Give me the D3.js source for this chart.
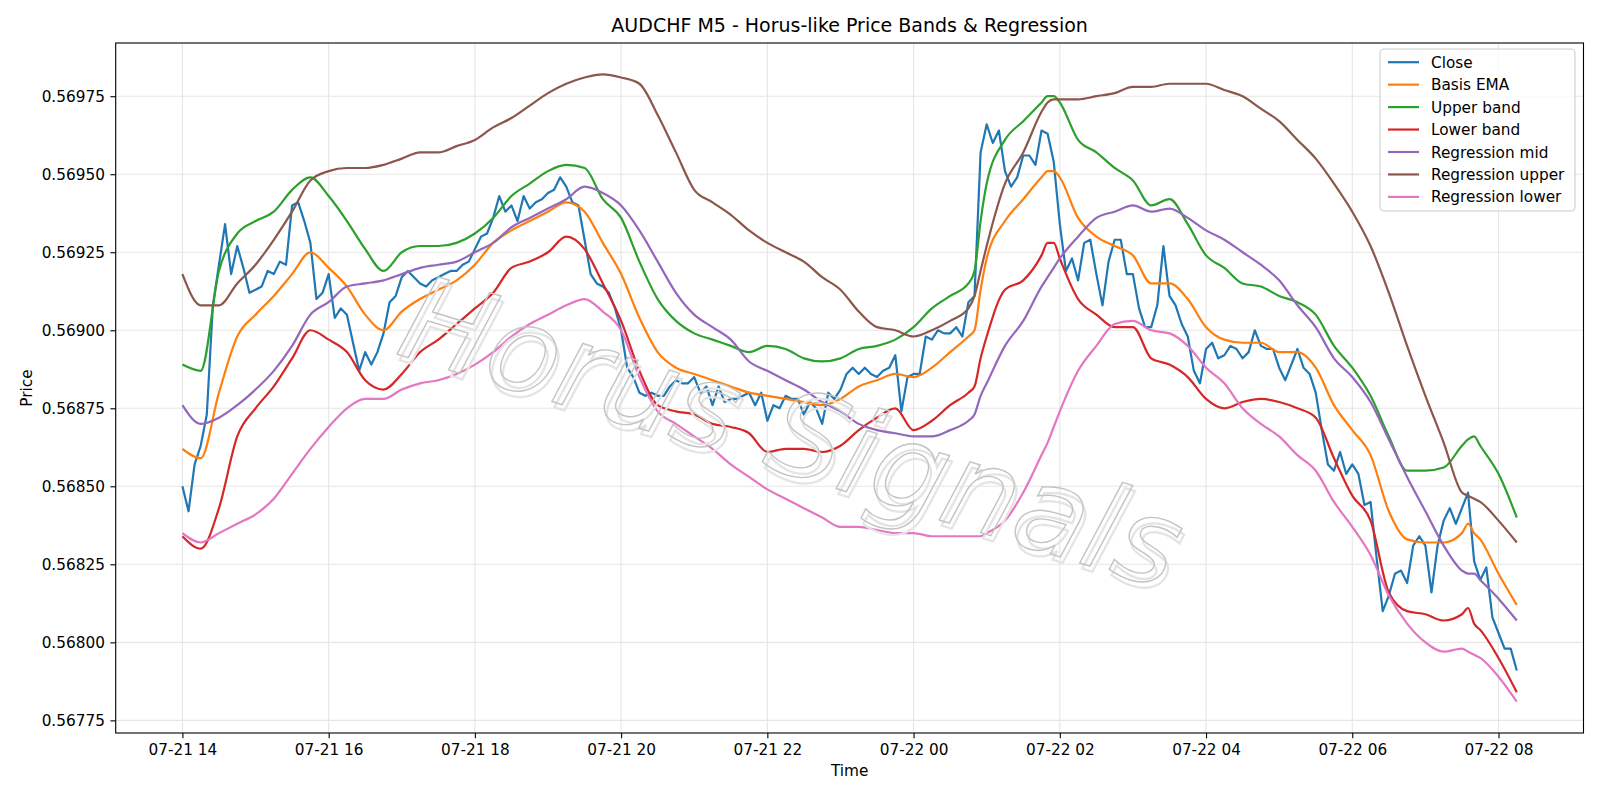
<!DOCTYPE html>
<html><head><meta charset="utf-8">
<script src="https://cdn.jsdelivr.net/npm/d3@7"></script>
<style>body{margin:0;background:#fff} text{font-family:"DejaVu Sans",sans-serif}</style>
</head><body><svg id="c" width="1600" height="800"></svg>
<script>
// ---------------- DATA ----------------
const startTime = "2025-07-21T14:00:00Z";
const barMinutes = 5;          // M5 bars

const closeVals = [
.56850,.56842,.56857,.56863,.56873,.56908,.56921,.56934,.56918,.56927,
.56920,.56912,.56913,.56914,.56919,.56918,.56922,.56921,.56940,.56941,
.56935,.56928,.56910,.56912,.56918,.56904,.56907,.56905,.56896,.56887,
.56893,.56889,.56893,.56899,.56909,.56911,.56917,.56919,.56917,.56915,
.56914,.56916,.56917,.56918,.56919,.56919,.56921,.56922,.56926,.56930,
.56931,.56936,.56943,.56938,.56940,.56935,.56943,.56939,.56941,.56942,
.56944,.56945,.56949,.56946,.56941,.56940,.56929,.56918,.56915,.56914,
.56912,.56907,.56900,.56888,.56885,.56880,.56879,.56880,.56879,.56879,
.56882,.56884,.56883,.56883,.56885,.56880,.56882,.56876,.56882,.56877,
.56878,.56878,.56879,.56880,.56876,.56880,.56871,.56876,.56875,.56879,
.56878,.56878,.56873,.56877,.56875,.56870,.56880,.56878,.56881,.56886,
.56888,.56886,.56888,.56886,.56885,.56887,.56888,.56892,.56874,.56885,
.56886,.56886,.56898,.56897,.56900,.56899,.56899,.56901,.56898,.56909,
.56911,.56957,.56966,.56960,.56964,.56951,.56946,.56949,.56956,.56956,
.56953,.56964,.56963,.56954,.56934,.56919,.56923,.56916,.56928,.56929,
.56918,.56908,.56922,.56929,.56929,.56918,.56918,.56907,.56901,.56901,
.56908,.56927,.56911,.56908,.56902,.56898,.56887,.56883,.56894,.56896,
.56891,.56892,.56895,.56894,.56891,.56893,.56900,.56895,.56894,.56894,
.56888,.56884,.56889,.56894,.56888,.56886,.56880,.56868,.56857,.56855,
.56861,.56854,.56857,.56854,.56844,.56845,.56827,.56810,.56815,.56822,
.56823,.56819,.56831,.56834,.56831,.56816,.56831,.56839,.56843,.56838,
.56843,.56848,.56826,.56820,.56824,.56808,.56803,.56798,.56798,.56791];

const smoothBars = d3.range(0, 130, 3).concat([130, 131], [132, 135, 138, 141], [142, 143],
                   d3.range(144, 211, 3), [211, 212], [213, 216, 219]);

const basisEma = [
.56862,.56859,.56880,.56898,.56905,.56911,.56918,.56925,.56920,.56914,
.56905,.56900,.56906,.56910,.56913,.56916,.56921,.56928,.56932,.56935,
.56938,.56941,.56938,.56928,.56918,.56904,.56893,.56888,.56886,.56884,
.56882,.56880,.56879,.56878,.56877,.56876,.56878,.56882,.56884,.56886,
.56885,.56888,.56893,.56898,.56900,.56913,.56923,.56935,.56942,.56949,.56951,.56951,.56949,.56936,
.56930,.56927,.56924,.56915,.56915,.56910,.56901,.56897,.56896,.56896,
.56893,.56893,.56888,.56876,.56868,.56860,.56842,.56833,.56832,.56832,
.56835,.56838,.56835,.56833,.56822,.56812];

const upperBand = [
.56889,.56887,.56919,.56931,.56935,.56938,.56945,.56949,.56943,.56935,
.56926,.56919,.56925,.56927,.56927,.56928,.56931,.56936,.56943,.56947,
.56951,.56953,.56952,.56942,.56936,.56922,.56910,.56903,.56899,.56897,
.56895,.56893,.56895,.56894,.56891,.56890,.56891,.56894,.56895,.56897,
.56901,.56907,.56911,.56915,.56919,.56935,.56947,.56961,.56967,.56973,.56975,.56975,.56973,.56961,
.56957,.56952,.56948,.56940,.56942,.56934,.56924,.56920,.56915,.56914,
.56911,.56909,.56905,.56895,.56888,.56879,.56866,.56855,.56855,.56856,
.56863,.56865,.56866,.56863,.56854,.56840];

const lowerBand = [
.56834,.56830,.56843,.56866,.56875,.56882,.56891,.56900,.56897,.56893,
.56884,.56881,.56886,.56893,.56897,.56902,.56907,.56912,.56920,.56922,
.56925,.56930,.56926,.56915,.56903,.56887,.56876,.56874,.56873,.56870,
.56869,.56867,.56861,.56862,.56862,.56861,.56863,.56868,.56872,.56875,
.56868,.56871,.56876,.56880,.56882,.56891,.56898,.56913,.56916,.56924,.56928,.56928,.56923,.56910,
.56905,.56901,.56901,.56891,.56889,.56885,.56878,.56875,.56877,.56878,
.56877,.56875,.56872,.56859,.56847,.56839,.56816,.56810,.56809,.56807,
.56809,.56811,.56806,.56804,.56795,.56784];

const regMid = [
.56876,.56870,.56872,.56876,.56881,.56887,.56895,.56905,.56909,.56914,
.56915,.56916,.56918,.56920,.56921,.56922,.56925,.56928,.56933,.56936,
.56939,.56942,.56946,.56944,.56940,.56932,.56922,.56912,.56905,.56901,
.56897,.56890,.56887,.56884,.56881,.56877,.56874,.56870,.56868,.56867,
.56866,.56866,.56868,.56871,.56873,.56879,.56883,.56895,.56903,.56914,.56917,.56920,.56923,.56930,
.56936,.56938,.56940,.56938,.56939,.56936,.56932,.56929,.56925,.56921,
.56916,.56908,.56901,.56891,.56885,.56877,.56865,.56853,.56842,.56831,
.56823,.56822,.56822,.56820,.56814,.56807];

const regUpper = [
.56918,.56908,.56908,.56915,.56921,.56929,.56938,.56948,.56951,.56952,
.56952,.56953,.56955,.56957,.56957,.56959,.56961,.56965,.56968,.56972,
.56976,.56979,.56981,.56982,.56981,.56979,.56969,.56957,.56945,.56941,
.56937,.56932,.56928,.56925,.56922,.56917,.56913,.56906,.56901,.56900,
.56898,.56900,.56903,.56907,.56911,.56919,.56927,.56947,.56957,.56970,.56973,.56974,.56974,.56974,
.56975,.56976,.56978,.56978,.56979,.56979,.56979,.56977,.56975,.56971,
.56967,.56961,.56955,.56947,.56938,.56927,.56912,.56895,.56879,.56864,
.56848,.56847,.56846,.56845,.56839,.56832];

const regLower = [
.56835,.56832,.56835,.56838,.56841,.56846,.56854,.56862,.56869,.56875,
.56878,.56878,.56881,.56883,.56884,.56886,.56889,.56893,.56898,.56902,
.56905,.56908,.56910,.56906,.56900,.56885,.56874,.56870,.56866,.56862,
.56857,.56853,.56849,.56846,.56843,.56840,.56837,.56837,.56836,.56835,
.56835,.56834,.56834,.56834,.56834,.56834,.56835,.56839,.56848,.56860,.56864,.56869,.56874,.56887,
.56895,.56902,.56903,.56900,.56899,.56895,.56888,.56883,.56875,.56870,
.56866,.56860,.56855,.56845,.56837,.56828,.56815,.56806,.56800,.56797,
.56798,.56797,.56796,.56795,.56789,.56781];

const seriesNames  = ["Close","Basis EMA","Upper band","Lower band","Regression mid","Regression upper","Regression lower"];
const seriesColors = ["#1f77b4","#ff7f0e","#2ca02c","#d62728","#9467bd","#8c564b","#e377c2"];

const xTickTimes  = ["2025-07-21T14:00:00Z","2025-07-21T16:00:00Z","2025-07-21T18:00:00Z","2025-07-21T20:00:00Z",
                     "2025-07-21T22:00:00Z","2025-07-22T00:00:00Z","2025-07-22T02:00:00Z","2025-07-22T04:00:00Z",
                     "2025-07-22T06:00:00Z","2025-07-22T08:00:00Z"];
const xTickLabels = ["07-21 14","07-21 16","07-21 18","07-21 20","07-21 22","07-22 00","07-22 02","07-22 04","07-22 06","07-22 08"];
const yTicks = [0.56775,0.56800,0.56825,0.56850,0.56875,0.56900,0.56925,0.56950,0.56975];

const titleText = "AUDCHF M5 - Horus-like Price Bands & Regression";
const watermark = "Horus Signals";

// ---------------- CHART ----------------
const L = 115.7, R = 1583.5, T = 43, B = 733;
const FS = 15.3;
const svg = d3.select("#c");

const t0 = new Date(startTime).getTime();
const toTime = i => new Date(t0 + i * barMinutes * 60000);
const closeData = closeVals.map((v, i) => ({t: toTime(i), v}));
const mk = arr => arr.map((v, i) => ({t: toTime(smoothBars[i]), v}));
const smoothSeries = [basisEma, upperBand, lowerBand, regMid, regUpper, regLower].map(mk);

const tMin = closeData[0].t, tMax = closeData[closeData.length - 1].t;
const span = tMax - tMin;
const x = d3.scaleUtc().domain([new Date(+tMin - 0.05 * span), new Date(+tMax + 0.05 * span)]).range([L, R]);

const allV = closeVals.concat(basisEma, upperBand, lowerBand, regMid, regUpper, regLower);
const vMin = d3.min(allV), vMax = d3.max(allV), vs = vMax - vMin;
const y = d3.scaleLinear().domain([vMin - 0.05 * vs, vMax + 0.05 * vs]).range([B, T]);

// grid
const grid = svg.append("g");
grid.selectAll("line.gx").data(xTickTimes).enter().append("line")
  .attr("x1", d => x(new Date(d))).attr("x2", d => x(new Date(d)))
  .attr("y1", T).attr("y2", B).attr("stroke", "#e6e6e6").attr("stroke-width", 1.1);
grid.selectAll("line.gy").data(yTicks).enter().append("line")
  .attr("x1", L).attr("x2", R).attr("y1", d => y(d)).attr("y2", d => y(d))
  .attr("stroke", "#e6e6e6").attr("stroke-width", 1.1);

// lines
const lineC = d3.line().x(d => x(d.t)).y(d => y(d.v));
const lineS = d3.line().x(d => x(d.t)).y(d => y(d.v)).curve(d3.curveMonotoneX);
const plot = svg.append("g");
plot.append("path").datum(closeData).attr("d", lineC).attr("fill", "none")
  .attr("stroke", seriesColors[0]).attr("stroke-width", 2.2).attr("stroke-linejoin", "round");
smoothSeries.forEach((s, k) => {
  plot.append("path").datum(s).attr("d", lineS).attr("fill", "none")
    .attr("stroke", seriesColors[k + 1]).attr("stroke-width", 2.2).attr("stroke-linejoin", "round");
});

// watermark
const wm = svg.append("g").attr("transform", "translate(792,432) rotate(17)");
wm.append("text").attr("x", 4).attr("y", 5).attr("text-anchor", "middle").attr("dominant-baseline", "central")
  .attr("font-size", 118).attr("font-style", "italic").attr("font-weight", 300).attr("fill", "none")
  .attr("stroke", "#e4e4e4").attr("stroke-width", 2.2).text(watermark);
wm.append("text").attr("text-anchor", "middle").attr("dominant-baseline", "central")
  .attr("font-size", 118).attr("font-style", "italic").attr("font-weight", 300).attr("fill", "none")
  .attr("stroke", "#c4c4c4").attr("stroke-width", 1.4).text(watermark);

// axes
const xAxis = d3.axisBottom(x).tickValues(xTickTimes.map(d => new Date(d)))
  .tickFormat((d, i) => xTickLabels[i]).tickSize(5.3).tickPadding(5.5).tickSizeOuter(0);
const yAxis = d3.axisLeft(y).tickValues(yTicks).tickFormat(d3.format(".5f"))
  .tickSize(5.3).tickPadding(5.5).tickSizeOuter(0);
const gx = svg.append("g").attr("transform", `translate(0,${B})`).call(xAxis);
const gy = svg.append("g").attr("transform", `translate(${L},0)`).call(yAxis);
[gx, gy].forEach(g => {
  g.select(".domain").remove();
  g.selectAll("line").attr("stroke", "#000").attr("stroke-width", 1.1);
  g.selectAll("text").attr("font-family", "DejaVu Sans").attr("font-size", FS).attr("fill", "#000");
});

// frame
svg.append("rect").attr("x", L).attr("y", T).attr("width", R - L).attr("height", B - T)
  .attr("fill", "none").attr("stroke", "#000").attr("stroke-width", 1.1);

// title & labels
svg.append("text").attr("x", (L + R) / 2).attr("y", 31.5).attr("text-anchor", "middle")
  .attr("font-size", 19).text(titleText);
svg.append("text").attr("x", (L + R) / 2).attr("y", 776).attr("text-anchor", "middle")
  .attr("font-size", FS).text("Time");
svg.append("text").attr("transform", `translate(32,${(T + B) / 2}) rotate(-90)`).attr("text-anchor", "middle")
  .attr("font-size", FS).text("Price");

// legend
const lg = svg.append("g");
lg.append("rect").attr("x", 1380).attr("y", 49).attr("width", 195).attr("height", 162)
  .attr("rx", 4).attr("fill", "#fff").attr("fill-opacity", 0.8).attr("stroke", "#cccccc").attr("stroke-width", 1.1);
seriesNames.forEach((n, i) => {
  const cy = 62.2 + i * 22.45;
  lg.append("line").attr("x1", 1388).attr("x2", 1419).attr("y1", cy).attr("y2", cy)
    .attr("stroke", seriesColors[i]).attr("stroke-width", 2.2);
  lg.append("text").attr("x", 1431).attr("y", cy).attr("dy", "0.36em").attr("font-size", FS).text(n);
});
</script></body></html>
